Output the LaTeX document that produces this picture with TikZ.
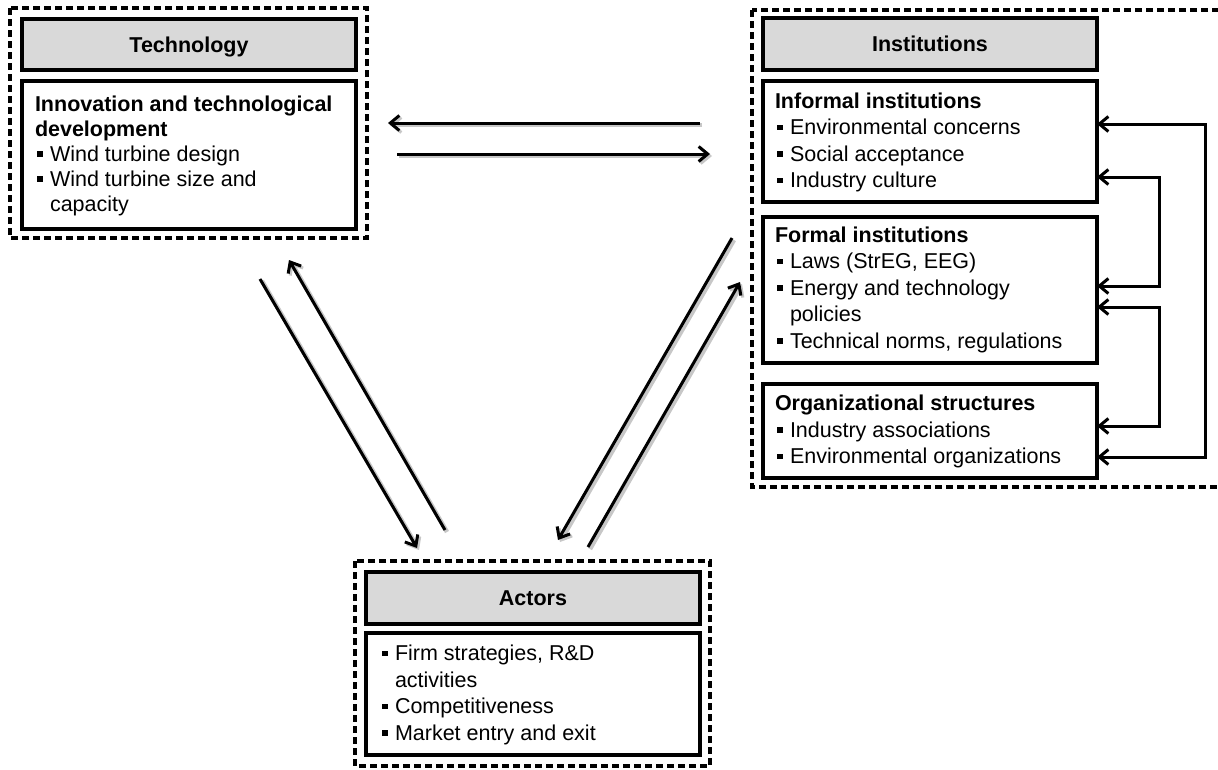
\documentclass[tikz,border=0pt]{standalone}
\usepackage{fontspec}
\setmainfont{Liberation Sans}
\usetikzlibrary{arrows.meta,calc}

\definecolor{hdrgray}{RGB}{217,217,217}

% small square bullet and the matching hanging indent
\newcommand\bul{\hspace*{2pt}\rule[4.5pt]{5.5pt}{5.5pt}\hspace*{7.5pt}}
\newcommand\hng{\hspace*{15pt}}

\begin{document}
\begin{tikzpicture}[x=1pt,y=-1pt,
  group/.style={draw, line width=3.3pt, dash pattern=on 7pt off 4pt},
  hdr/.style={draw, line width=3.2pt, fill=hdrgray, anchor=north west,
    inner sep=0pt, outer sep=0pt, minimum width=334pt,
    text height=15.5pt, text depth=0pt,
    font=\fontsize{21.5}{26}\selectfont\bfseries},
  body/.style={draw, line width=3.2pt, anchor=north west, inner sep=0pt,
    outer sep=0pt, minimum width=334pt},
  txt/.style={anchor=north west, inner sep=0pt, outer sep=0pt, align=left},
  tip/.tip={Straight Barb[length=9pt,width=15pt,line width=3pt]},
  link/.style={line width=3pt, -tip,
    preaction={draw=black!22, line width=4.5pt,
      transform canvas={shift={(2pt,-2pt)}}}},
  loop/.style={line width=3pt, tip-tip},
]
\clip (0,0) rectangle (1218,769);
\useasboundingbox (0,0) rectangle (1218,769);

% ---------- Technology ----------
\draw[group] (10,8) rectangle (367,238);
\node[hdr, minimum height=51pt] (techhdr) at (22,19) {Technology};
\node[body, minimum height=148pt] (techbody) at (22,81) {};
\node[txt, font=\fontsize{21.5}{25}\selectfont]
  (techtxt) at ($(techbody.north west)+(13,12.5)$)
  {\strut\textbf{Innovation and technological}\\
   \textbf{development}\\
   \bul Wind turbine design\\
   \bul Wind turbine size and\\
   \hng capacity};

% ---------- Institutions ----------
\draw[group] (752,10) rectangle (1240,487);
\node[hdr, minimum height=52pt] (insthdr) at (763,18) {Institutions};
\node[body, minimum height=121pt] (inf) at (763,81) {};
\node[body, minimum height=146pt] (frm) at (763,217) {};
\node[body, minimum height=94pt] (org) at (763,384) {};

\node[txt, font=\fontsize{21.5}{26.5}\selectfont]
  (inftxt) at ($(inf.north west)+(12,8.8)$)
  {\strut\textbf{Informal institutions}\\
   \bul Environmental concerns\\
   \bul Social acceptance\\
   \bul Industry culture};
\node[txt, font=\fontsize{21.5}{26.5}\selectfont]
  (frmtxt) at ($(frm.north west)+(12,6.8)$)
  {\strut\textbf{Formal institutions}\\
   \bul Laws (StrEG, EEG)\\
   \bul Energy and technology\\
   \hng policies\\
   \bul Technical norms, regulations};
\node[txt, font=\fontsize{21.5}{26.5}\selectfont]
  (orgtxt) at ($(org.north west)+(12,8.2)$)
  {\strut\textbf{Organizational structures}\\
   \bul Industry associations\\
   \bul Environmental organizations};

% ---------- Actors ----------
\draw[group] (355,561) rectangle (710,766);
\node[hdr, minimum height=52pt] (acthdr) at (366,572) {Actors};
\node[body, minimum height=122pt] (actbody) at (366,633) {};
\node[txt, font=\fontsize{21.5}{26.5}\selectfont]
  (acttxt) at ($(actbody.north west)+(14,9.2)$)
  {\strut\bul Firm strategies, R\&D\\
   \hng activities\\
   \bul Competitiveness\\
   \bul Market entry and exit};

% ---------- free ends of the main links ----------
\coordinate (ti1) at (700,123);  \coordinate (ti2) at (388,123);
\coordinate (it1) at (397,154);  \coordinate (it2) at (710,154);
\coordinate (ta1) at (260,279);  \coordinate (ta2) at (417,548);
\coordinate (at1) at (445,530);  \coordinate (at2) at (289,260);
\coordinate (ia1) at (732,238);  \coordinate (ia2) at (558,540);
\coordinate (ai1) at (588,547);  \coordinate (ai2) at (740,282);

\draw[link] (ti1) -- (ti2);
\draw[link] (it1) -- (it2);
\draw[link] (ta1) -- (ta2);
\draw[link] (at1) -- (at2);
\draw[link] (ia1) -- (ia2);
\draw[link] (ai1) -- (ai2);

% ---------- feedback loops between the institution boxes ----------
\coordinate (y1) at (0,124);  \coordinate (y2) at (0,457);
\coordinate (y3) at (0,177);  \coordinate (y4) at (0,286);
\coordinate (y5) at (0,307);  \coordinate (y6) at (0,426);
\coordinate (xo) at (1205,0); \coordinate (xi) at (1159,0);

\draw[loop] (inf.east |- y1) -- (xo |- y1) -- (xo |- y2) -- (org.east |- y2);
\draw[loop] (inf.east |- y3) -- (xi |- y3) -- (xi |- y4) -- (frm.east |- y4);
\draw[loop] (frm.east |- y5) -- (xi |- y5) -- (xi |- y6) -- (org.east |- y6);
\end{tikzpicture}
\end{document}
